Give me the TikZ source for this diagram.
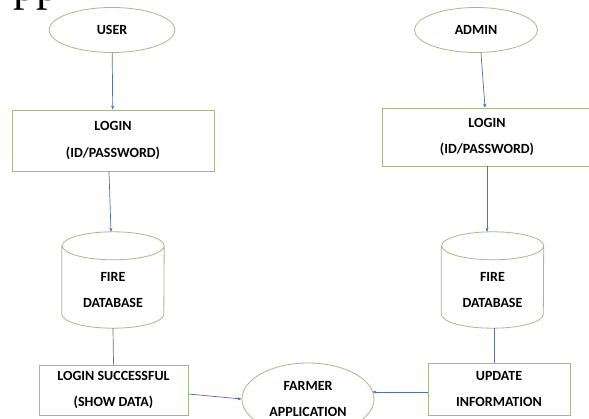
\documentclass[tikz,border=0pt]{standalone}
\usepackage{fontspec}
\setmainfont{Liberation Serif}
\newfontfamily\lblfont{Carlito}
\usetikzlibrary{shapes.geometric,arrows.meta}
\definecolor{outline}{RGB}{172,182,142}
\definecolor{flow}{RGB}{84,112,168}
\tikzset{
  lbl/.style={font=\lblfont\bfseries\fontsize{14}{26.5}\selectfont, align=center, text=black, inner sep=0pt},
  oval/.style={lbl, ellipse, draw=outline, line width=0.8pt, fill=white},
  boxnode/.style={lbl, rectangle, draw=outline, line width=0.8pt, fill=white},
  dbbox/.style={rectangle, inner sep=0pt, minimum width=102pt, minimum height=96pt},
  shapeline/.style={draw=outline, line width=0.8pt},
  arr/.style={draw=flow, line width=0.7pt, -{Stealth[length=4pt,width=3.2pt]}},
  plain/.style={draw=flow!80!gray, line width=0.7pt}
}
\begin{document}
\begin{tikzpicture}[x=1pt,y=-1pt]
\useasboundingbox (0,0) rectangle (589,419);
\fill[white] (0,0) rectangle (589,419);

% fragment of the heading line above the chart
\node[anchor=base west, inner sep=0pt, font=\fontsize{46}{46}\selectfont] (head) at (13,1) {pp};

% actors
\node[oval, minimum width=126pt, minimum height=45pt] (user) at (112,30) {USER};
\node[oval, minimum width=123pt, minimum height=45pt] (admin) at (476,30) {ADMIN};

% login boxes
\node[boxnode, minimum width=202pt, minimum height=61pt] (login1) at (113,140.5) {LOGIN\\(ID/PASSWORD)};
\node[boxnode, minimum width=210pt, minimum height=58pt] (login2) at (487,137) {LOGIN\\(ID/PASSWORD)};

% databases
\node[dbbox] (db1) at (113,280) {};
\draw[shapeline] ([yshift=-14pt]db1.north west) -- ([yshift=14pt]db1.south west)
  arc[start angle=180, end angle=360, x radius=51pt, y radius=14pt]
  -- ([yshift=-14pt]db1.north east)
  arc[start angle=0, end angle=180, x radius=51pt, y radius=14pt]
  arc[start angle=180, end angle=360, x radius=51pt, y radius=14pt];
\node[lbl] (db1t) at (113,290) {FIRE\\DATABASE};

\node[dbbox] (db2) at (492.5,280) {};
\draw[shapeline] ([yshift=-14pt]db2.north west) -- ([yshift=14pt]db2.south west)
  arc[start angle=180, end angle=360, x radius=51pt, y radius=14pt]
  -- ([yshift=-14pt]db2.north east)
  arc[start angle=0, end angle=180, x radius=51pt, y radius=14pt]
  arc[start angle=180, end angle=360, x radius=51pt, y radius=14pt];
\node[lbl] (db2t) at (492.5,290) {FIRE\\DATABASE};

% result boxes
\node[boxnode, minimum width=149pt, minimum height=50pt] (success) at (113.5,390) {LOGIN SUCCESSFUL\\(SHOW DATA)};
\node[boxnode, minimum width=142pt, minimum height=52pt] (update) at (499,389) {UPDATE\\INFORMATION};

% application
\node[oval, minimum width=132pt, minimum height=72pt] (farmer) at (308,399) {FARMER\\APPLICATION};

% connectors
\draw[arr] (user) -- (login1);
\draw[arr] ([xshift=5pt]admin.south) -- ([xshift=-2pt]login2.north);
\draw[arr] ([xshift=-4pt]login1.south) -- ([xshift=-2pt]db1.north);
\draw[arr] (login2.south) -- (login2.south |- db2.north);
\draw[plain] (db1.south) -- (success.north);
\draw[plain] ([xshift=2pt]db2.south) -- ([xshift=2pt]db2.south |- update.north);
\draw[arr] ([yshift=-4pt]success.east) -- (farmer.west);
\draw[arr] ([yshift=-3pt]update.west) -- ([yshift=-3pt,xshift=-2pt]update.west -| farmer.east);
\end{tikzpicture}
\end{document}
